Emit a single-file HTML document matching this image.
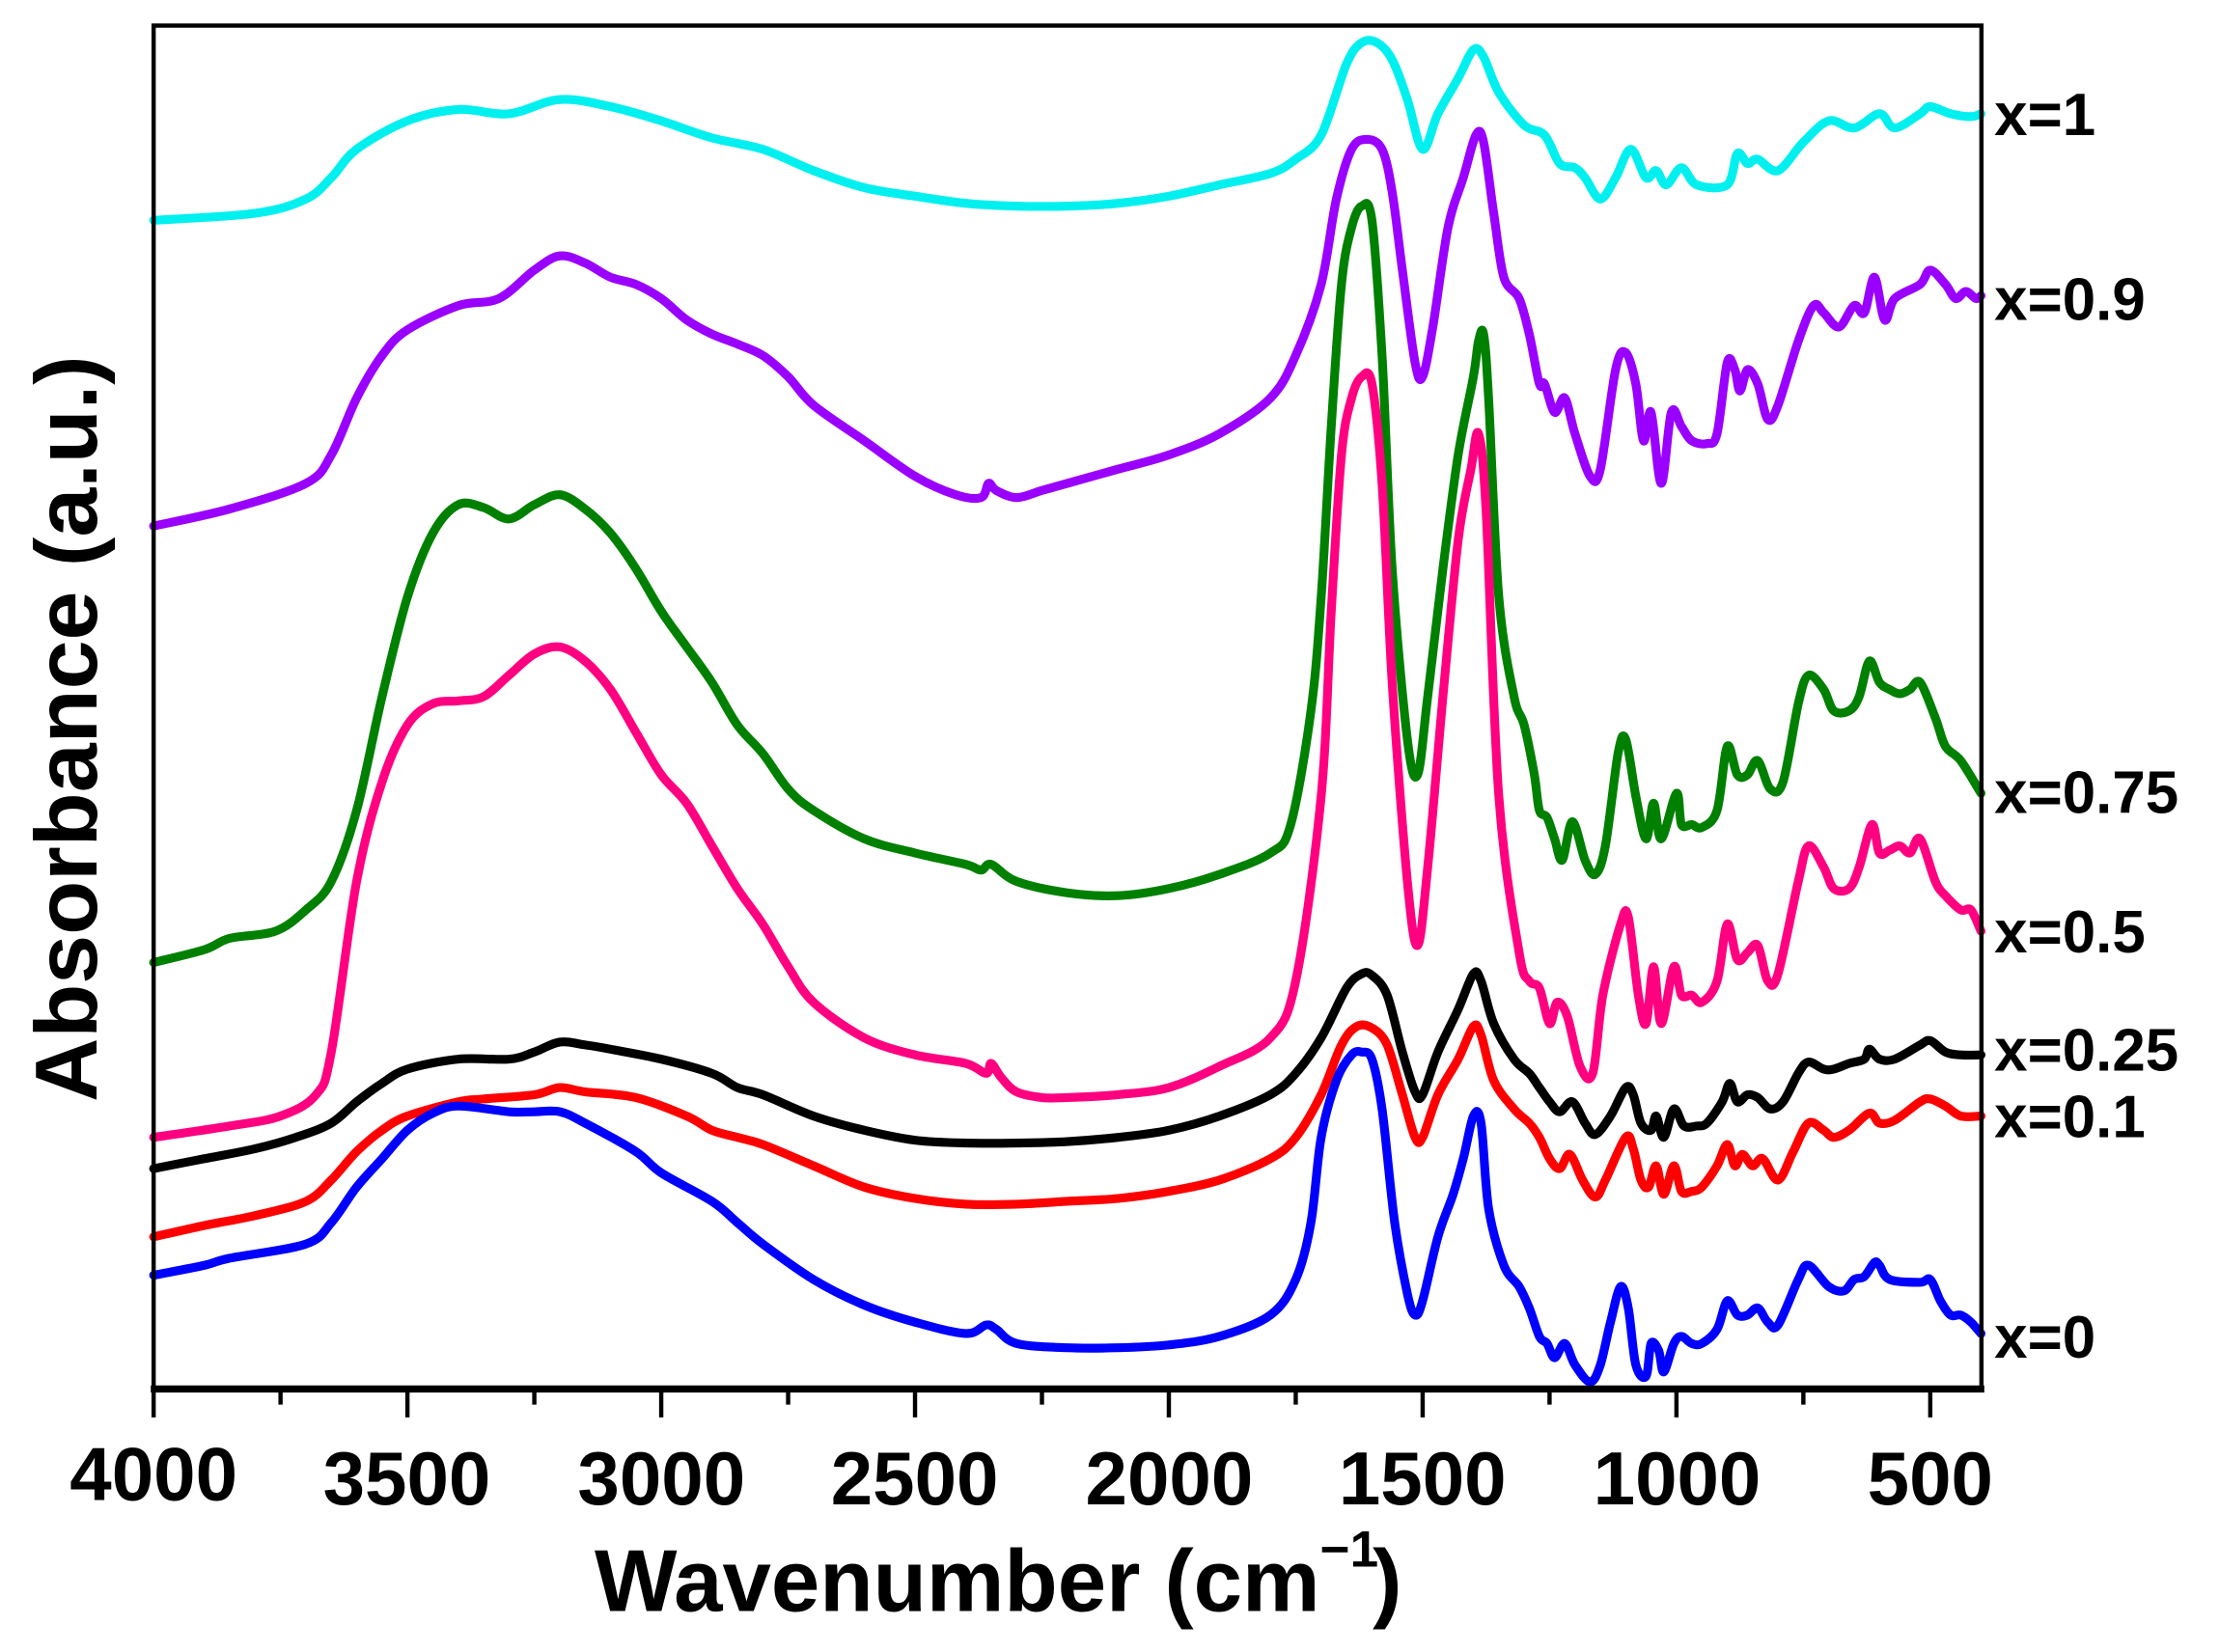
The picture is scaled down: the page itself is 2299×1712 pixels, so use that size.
<!DOCTYPE html>
<html><head><meta charset="utf-8">
<style>html,body{margin:0;padding:0;background:#fff;}svg{display:block;}</style>
</head><body>
<svg id="s" width="2299" height="1712" viewBox="0 0 1560 1162" preserveAspectRatio="none" xmlns="http://www.w3.org/2000/svg">
<rect x="0" y="0" width="1560" height="1162" fill="#fff"/>
<g id="curves" fill="none" stroke-width="6.2" stroke-linejoin="round" stroke-linecap="round"></g>
<rect x="108" y="18" width="1285" height="959" fill="none" stroke="#000" stroke-width="3"/>
<line x1="106" y1="977" x2="1395" y2="977" stroke="#000" stroke-width="5"/>
<g id="ticks" stroke="#000" stroke-width="3"></g>
<g font-family="Liberation Sans, Arial, sans-serif" font-weight="bold" fill="#000">
<g font-size="53" text-anchor="middle">
<text x="108" y="1055">4000</text><text x="286" y="1058">3500</text><text x="465" y="1058">3000</text>
<text x="643" y="1058">2500</text><text x="822" y="1058">2000</text><text x="1000" y="1058">1500</text>
<text x="1179" y="1058">1000</text><text x="1357" y="1058">500</text>
</g>
<text x="418" y="1133" font-size="62" textLength="510" lengthAdjust="spacingAndGlyphs">Wavenumber (cm</text>
<text x="928" y="1102" font-size="36">−1</text>
<text x="965" y="1133" font-size="62">)</text>
<text transform="translate(68,775) rotate(-90)" font-size="62" textLength="525" lengthAdjust="spacingAndGlyphs">Absorbance (a.u.)</text>
<g font-size="42">
<text x="1402" y="95">x=1</text><text x="1402" y="225">x=0.9</text><text x="1402" y="572">x=0.75</text>
<text x="1402" y="670">x=0.5</text><text x="1402" y="753">x=0.25</text><text x="1402" y="800">x=0.1</text>
<text x="1402" y="955">x=0</text>
</g>
</g>
</svg>
<script>
function X(w){return 108+(4000-w)*0.35686;}
var D={
"#00f0f0":[4000,155,3800,150,3700,140,3650,125,3600,105,3500,85,3400,77,3300,80,3200,70,3100,75,3000,85,2900,97,2800,105,2700,120,2600,132,2500,138,2400,143,2300,145,2200,145,2100,143,2000,138,1900,130,1800,122,1750,112,1700,95,1650,45,1620,30,1590,30,1560,42,1530,70,1500,105,1470,80,1430,55,1400,35,1380,40,1350,65,1300,88,1260,95,1230,115,1200,118,1180,125,1150,140,1120,125,1090,105,1060,125,1040,120,1020,130,990,118,960,130,900,130,880,108,860,115,840,112,800,120,750,100,700,85,650,90,600,80,570,90,520,80,500,75,460,80,420,82,400,80],
"#9900ff":[4000,370,3850,358,3700,340,3650,320,3600,280,3550,250,3500,232,3400,215,3320,210,3250,190,3200,180,3150,185,3100,195,3050,200,3000,210,2950,225,2900,235,2850,242,2800,250,2750,265,2700,285,2600,310,2500,335,2420,348,2370,350,2355,340,2340,345,2300,350,2250,345,2200,340,2100,330,2000,320,1900,305,1800,280,1750,250,1700,200,1670,140,1640,105,1610,98,1580,105,1560,135,1540,190,1515,255,1500,265,1480,230,1450,160,1420,125,1395,95,1380,100,1360,150,1340,195,1310,210,1290,235,1270,270,1260,270,1240,290,1220,280,1200,305,1170,335,1150,330,1120,260,1100,248,1080,270,1065,310,1050,290,1030,340,1010,290,990,300,970,310,940,312,920,305,900,255,885,260,875,275,860,260,840,270,820,295,800,285,760,240,730,215,710,220,680,230,650,215,630,220,610,195,590,225,570,210,520,200,500,190,470,200,450,210,430,205,410,210,400,208],
"#008000":[4000,677,3900,668,3850,660,3760,655,3700,640,3650,620,3600,570,3550,490,3500,420,3450,375,3400,355,3350,357,3300,365,3250,355,3200,348,3150,358,3100,375,3050,400,3000,430,2950,455,2900,480,2850,510,2800,530,2750,555,2700,570,2600,590,2500,600,2400,608,2370,612,2350,608,2300,620,2200,628,2100,630,2000,625,1900,615,1800,600,1760,580,1720,500,1700,420,1680,300,1660,200,1640,160,1620,145,1600,155,1580,250,1560,400,1530,520,1510,545,1490,490,1460,400,1430,320,1400,265,1390,240,1380,235,1370,280,1350,420,1320,490,1300,510,1280,545,1270,570,1255,575,1240,590,1225,605,1205,578,1180,605,1160,615,1140,595,1115,530,1100,520,1080,560,1060,590,1045,565,1030,590,1000,558,990,580,970,580,950,582,920,570,900,525,880,545,860,545,840,535,815,555,790,550,760,495,740,475,710,485,690,500,660,500,640,490,620,465,600,480,580,485,560,488,540,485,520,480,490,505,470,525,440,535,400,558],
"#ff0080":[4000,800,3850,792,3750,785,3680,770,3650,740,3600,620,3550,550,3500,510,3450,495,3400,493,3350,490,3300,475,3250,460,3200,455,3150,465,3100,485,3050,515,3000,545,2950,565,2900,595,2850,625,2800,650,2750,680,2700,705,2600,730,2500,742,2400,748,2360,755,2350,748,2330,758,2300,768,2250,772,2200,772,2100,770,2000,765,1900,750,1800,730,1750,690,1700,560,1680,430,1660,320,1640,280,1620,265,1600,270,1580,340,1560,480,1530,620,1510,665,1490,610,1460,490,1430,380,1405,330,1390,305,1375,360,1350,560,1310,670,1290,690,1270,695,1250,720,1235,705,1215,715,1190,750,1165,755,1145,700,1110,650,1095,645,1075,700,1060,720,1045,680,1030,720,1005,680,990,700,970,700,950,705,920,690,900,650,880,675,860,670,840,665,820,690,800,685,760,620,740,595,710,610,690,625,660,625,640,610,615,580,600,600,580,598,560,595,540,600,520,590,490,620,470,630,440,640,420,640,400,655],
"#000000":[4000,822,3900,815,3800,808,3720,800,3650,790,3600,775,3550,762,3500,752,3400,745,3300,745,3250,740,3200,733,3150,735,3100,738,3000,745,2900,755,2850,765,2800,770,2700,785,2600,795,2500,802,2400,804,2300,804,2200,803,2100,800,2000,795,1900,785,1800,770,1750,755,1700,730,1650,695,1620,685,1600,686,1570,700,1540,740,1515,768,1500,770,1470,740,1430,710,1400,685,1385,690,1360,720,1320,745,1290,755,1270,765,1250,775,1230,782,1205,775,1180,790,1160,798,1130,785,1100,765,1085,770,1070,790,1050,795,1040,785,1025,800,1005,780,985,792,960,792,940,790,910,775,895,762,880,775,860,770,840,772,815,780,790,775,760,755,740,747,710,752,690,752,660,748,630,745,620,738,600,745,570,745,520,735,500,732,470,740,440,742,400,742],
"#ff0000":[4000,870,3900,862,3800,855,3700,845,3650,830,3600,810,3550,795,3500,785,3400,775,3350,773,3250,770,3200,765,3150,768,3050,772,2950,785,2900,795,2850,800,2800,805,2700,820,2600,835,2500,843,2400,847,2300,847,2200,845,2100,843,2000,838,1900,830,1800,815,1750,800,1700,770,1660,735,1630,722,1600,723,1570,735,1540,770,1515,800,1500,800,1470,770,1430,745,1400,722,1385,728,1360,760,1320,780,1290,790,1270,800,1250,815,1230,822,1210,812,1185,830,1160,842,1140,830,1100,800,1085,808,1070,830,1055,835,1040,820,1025,840,1005,820,990,838,970,838,950,835,920,820,900,805,885,820,870,812,850,820,830,815,800,830,770,810,740,790,710,795,690,800,660,795,620,783,600,790,570,788,520,775,500,773,470,778,440,785,400,785],
"#0000ff":[4000,897,3900,890,3850,885,3700,875,3650,860,3600,835,3550,815,3500,795,3450,783,3400,778,3300,782,3250,782,3200,782,3150,790,3050,810,3000,825,2900,845,2850,860,2800,875,2700,900,2600,918,2500,930,2400,938,2360,932,2340,935,2300,945,2200,948,2100,948,2000,946,1900,940,1800,925,1750,900,1720,860,1700,800,1670,760,1640,742,1620,740,1600,745,1580,780,1555,860,1530,910,1515,925,1500,915,1470,870,1440,840,1420,815,1400,785,1385,790,1370,850,1340,890,1310,905,1290,920,1270,940,1255,945,1240,955,1220,945,1200,960,1170,972,1150,960,1130,930,1110,905,1095,920,1080,960,1060,968,1050,945,1035,950,1025,965,1005,945,990,940,970,945,950,945,920,935,900,915,880,925,860,925,840,920,820,930,800,932,760,900,740,890,700,905,670,908,650,900,630,898,610,888,600,890,580,900,520,902,500,900,480,915,460,925,440,925,420,930,400,938]
};
var NS="http://www.w3.org/2000/svg",g=document.getElementById("curves");
for(var c in D){var a=D[c],p=[];for(var i=0;i<a.length;i+=2)p.push([X(a[i]),a[i+1]]);
var d="M"+p[0][0].toFixed(1)+","+p[0][1];
for(var i=0;i<p.length-1;i++){var p0=p[i?i-1:0],p1=p[i],p2=p[i+1],p3=p[i+2<p.length?i+2:i+1];
var c1x=p1[0]+(p2[0]-p0[0])/6,c1y=p1[1]+(p2[1]-p0[1])/6,c2x=p2[0]-(p3[0]-p1[0])/6,c2y=p2[1]-(p3[1]-p1[1])/6;
d+="C"+c1x.toFixed(1)+","+c1y.toFixed(1)+" "+c2x.toFixed(1)+","+c2y.toFixed(1)+" "+p2[0].toFixed(1)+","+p2[1].toFixed(1);}
var e=document.createElementNS(NS,"path");e.setAttribute("d",d);e.setAttribute("stroke",c);g.appendChild(e);}
var t=document.getElementById("ticks");
for(var w=4000;w>=500;w-=250){var x=X(w),L=document.createElementNS(NS,"line");
L.setAttribute("x1",x);L.setAttribute("x2",x);L.setAttribute("y1",977);L.setAttribute("y2",(w%500==0)?997:988);t.appendChild(L);}
</script>
</body></html>
